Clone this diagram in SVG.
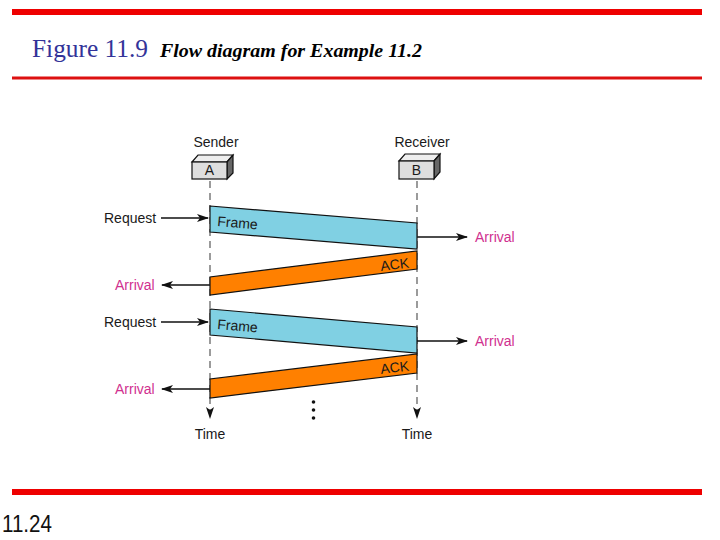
<svg xmlns="http://www.w3.org/2000/svg" width="720" height="540" viewBox="0 0 720 540">
<style>
.lbl{font-family:"Liberation Sans",Arial,sans-serif;font-size:14px;fill:#1a1a1a}
.mag{font-family:"Liberation Sans",Arial,sans-serif;font-size:14px;fill:#d0308f}
.ln{stroke:#111;stroke-width:1.3;fill:none}
.life{stroke:#666;stroke-width:1.3;stroke-dasharray:7,5;fill:none}
.frame{fill:#80d0e3;stroke:#111;stroke-width:1.2}
.ack{fill:#ff8000;stroke:#111;stroke-width:1.2}
.front{fill:#dedede;stroke:#111;stroke-width:1.2}
.top{fill:#eeeeee;stroke:#111;stroke-width:1.2}
.side{fill:#666;stroke:#111;stroke-width:1.2}
</style>
<defs>
<marker id="ah" markerWidth="12" markerHeight="8" refX="11" refY="4" orient="auto" markerUnits="userSpaceOnUse">
<path d="M0,0 L12,4 L0,8 L3,4 Z" fill="#111"/>
</marker>
</defs>
<rect width="720" height="540" fill="#fff"/>
<rect x="12" y="9" width="690" height="6" fill="#ee0000"/>
<rect x="12" y="76.5" width="690" height="3" fill="#dd1111"/>
<rect x="12" y="489" width="690" height="6" fill="#ee0000"/>
<text x="32" y="57" font-family="Liberation Serif,'Times New Roman',serif" font-size="26" fill="#333399" textLength="116" lengthAdjust="spacingAndGlyphs">Figure 11.9</text>
<text x="160" y="57" font-family="Liberation Serif,'Times New Roman',serif" font-size="19" font-weight="bold" font-style="italic" fill="#000" textLength="262" lengthAdjust="spacingAndGlyphs">Flow diagram for Example 11.2</text>
<text x="2" y="532" font-family="Liberation Sans,Arial,sans-serif" font-size="24" fill="#111" textLength="50" lengthAdjust="spacingAndGlyphs">11.24</text>

<g id="connectors">
<line class="life" x1="210" y1="181" x2="210" y2="418" marker-end="url(#ah)"/>
<line class="life" x1="417" y1="181" x2="417" y2="418" marker-end="url(#ah)"/>
<line class="ln" x1="161" y1="218" x2="208" y2="218" marker-end="url(#ah)"/>
<line class="ln" x1="161" y1="322" x2="208" y2="322" marker-end="url(#ah)"/>
<line class="ln" x1="210" y1="285" x2="162" y2="285" marker-end="url(#ah)"/>
<line class="ln" x1="210" y1="389" x2="162" y2="389" marker-end="url(#ah)"/>
<line class="ln" x1="417" y1="237" x2="467" y2="237" marker-end="url(#ah)"/>
<line class="ln" x1="417" y1="341" x2="467" y2="341" marker-end="url(#ah)"/>
</g>

<g id="sender">
<text class="lbl" x="216" y="147" text-anchor="middle">Sender</text>
<polygon class="top" points="192,162 198,155 233,155 227,162"/>
<polygon class="side" points="227,162 233,155 233,173 227,179"/>
<rect class="front" x="192" y="162" width="35" height="17"/>
<text class="lbl" x="209.5" y="175" text-anchor="middle">A</text>
<text class="lbl" x="210" y="439" text-anchor="middle">Time</text>
</g>

<g id="receiver">
<text class="lbl" x="422" y="147" text-anchor="middle">Receiver</text>
<polygon class="top" points="399,161 405,154 440,154 434,161"/>
<polygon class="side" points="434,161 440,154 440,172 434,179"/>
<rect class="front" x="399" y="161" width="35" height="18"/>
<text class="lbl" x="416.5" y="175" text-anchor="middle">B</text>
<text class="lbl" x="417" y="439" text-anchor="middle">Time</text>
</g>

<g id="frame1">
<polygon class="frame" points="210,206 417,223 417,249 210,232"/>
<text class="lbl" x="217" y="226" transform="rotate(4.7 217 226)">Frame</text>
</g>
<g id="ack1">
<polygon class="ack" points="417,251 417,269 210,295 210,277"/>
<text class="lbl" x="381" y="271" transform="rotate(-7 381 271)">ACK</text>
</g>
<g id="frame2">
<polygon class="frame" points="210,309 417,327 417,353 210,335"/>
<text class="lbl" x="217" y="329" transform="rotate(4.7 217 329)">Frame</text>
</g>
<g id="ack2">
<polygon class="ack" points="417,354 417,373 210,398 210,379"/>
<text class="lbl" x="381" y="374" transform="rotate(-7 381 374)">ACK</text>
</g>

<g id="labels">
<text class="lbl" x="104" y="223">Request</text>
<text class="lbl" x="104" y="327">Request</text>
<text class="mag" x="115" y="290">Arrival</text>
<text class="mag" x="115" y="394">Arrival</text>
<text class="mag" x="475" y="242">Arrival</text>
<text class="mag" x="475" y="346">Arrival</text>
</g>

<g id="ellipsis" fill="#111">
<circle cx="313.5" cy="402" r="1.8"/>
<circle cx="313.5" cy="410" r="1.8"/>
<circle cx="313.5" cy="418" r="1.8"/>
</g>
</svg>
